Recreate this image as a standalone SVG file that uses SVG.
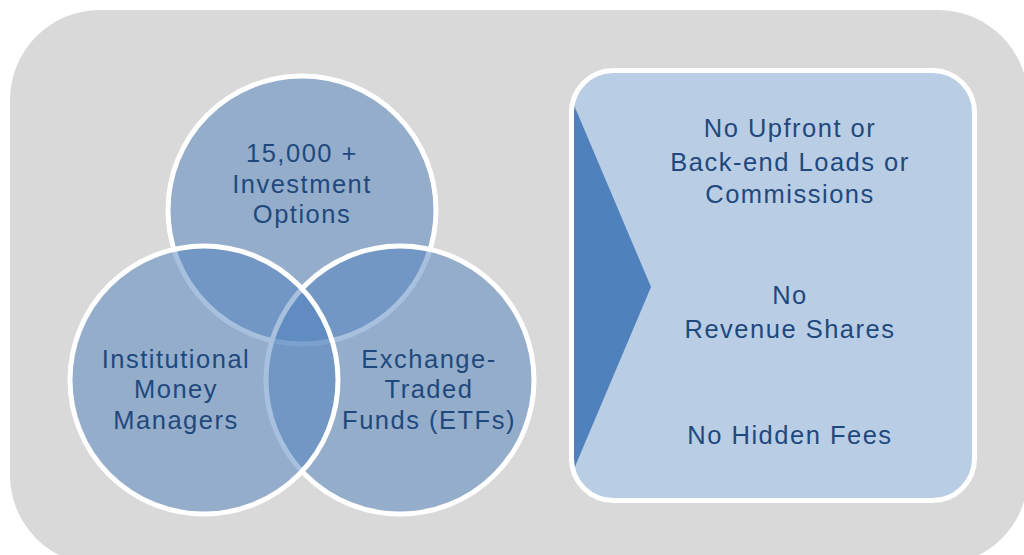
<svg xmlns="http://www.w3.org/2000/svg" width="1024" height="555" viewBox="0 0 1024 555">
  <defs>
    <style>
      .bg { fill: #D9D9D9; }
      .venn { fill: #4F81BD; fill-opacity: 0.5; stroke: #FFFFFF; stroke-width: 5; }
      .panel { fill: #B9CDE5; }
      .panel-border { fill: none; stroke: #FFFFFF; stroke-width: 5; }
      .chevron { fill: #4F81BD; }
      .lbl { font-family: "Liberation Sans", Arial, sans-serif; font-size: 25.5px; letter-spacing: 1.5px; fill: #1F497D; text-anchor: middle; }
    </style>
    <clipPath id="panelClip">
      <rect x="571.5" y="70.5" width="403" height="430" rx="42" ry="42"/>
    </clipPath>
  </defs>

  <rect class="bg" x="10" y="10" width="1018" height="555" rx="90" ry="90"/>

  <g id="circle-investment-options">
    <circle class="venn" cx="302" cy="210" r="134"/>
  </g>
  <g id="circle-etfs">
    <circle class="venn" cx="400" cy="380" r="134"/>
  </g>
  <g id="circle-money-managers">
    <circle class="venn" cx="204" cy="380" r="134"/>
  </g>

  <g id="label-investment-options">
    <text class="lbl" x="302" y="162">15,000 +</text>
    <text class="lbl" x="302" y="193">Investment</text>
    <text class="lbl" x="302" y="223">Options</text>
  </g>
  <g id="label-money-managers">
    <text class="lbl" x="176" y="368">Institutional</text>
    <text class="lbl" x="176" y="398">Money</text>
    <text class="lbl" x="176" y="429">Managers</text>
  </g>
  <g id="label-etfs">
    <text class="lbl" x="429" y="368">Exchange-</text>
    <text class="lbl" x="429" y="398">Traded</text>
    <text class="lbl" x="429" y="429">Funds (ETFs)</text>
  </g>

  <g id="fees-panel">
    <rect class="panel" x="571.5" y="70.5" width="403" height="430" rx="42" ry="42"/>
    <polygon class="chevron" clip-path="url(#panelClip)" points="560,72 651,287 560,502"/>
    <rect class="panel-border" x="571.5" y="70.5" width="403" height="430" rx="42" ry="42"/>
    <text class="lbl" x="790" y="137">No Upfront or</text>
    <text class="lbl" x="790" y="171">Back-end Loads or</text>
    <text class="lbl" x="790" y="203">Commissions</text>
    <text class="lbl" x="790" y="304">No</text>
    <text class="lbl" x="790" y="338">Revenue Shares</text>
    <text class="lbl" x="790" y="444">No Hidden Fees</text>
  </g>
</svg>
